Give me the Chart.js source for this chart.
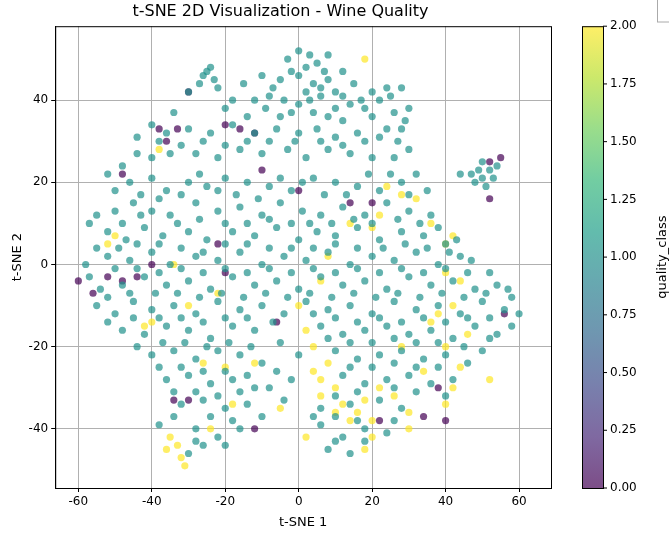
<!DOCTYPE html>
<html><head>
<script src="https://cdn.jsdelivr.net/npm/chart.js@4/dist/chart.umd.min.js"></script>
<style>body{margin:0;background:#fff}#wrap{width:669px;height:534px}</style>
</head><body><div id="wrap"><canvas id="c"></canvas></div>
<script>
const xTicks = [-60, -40, -20, 0, 20, 40, 60];
const yTicks = [-40, -20, 0, 20, 40];
const cbTicks = ["0.00","0.25","0.50","0.75","1.00","1.25","1.50","1.75","2.00"];

// quality_class = 1
const class1 = [
[-3,50],[0,52],[2,48],[5,49],[8,51],[12,47],
[-25,47],[-23,45],[-27,44],[-30,42],[-15,44],[-10,46],[-5,45],[0,46],[4,44],[8,45],[10,42],[15,44],[20,42],[25,41],[28,43],[-18,40],[-20,38],
[-12,40],[-8,41],[-4,40],[0,39],[3,40],[6,41],[10,38],[14,39],[18,38],[22,40],[26,37],[30,38],[-34,37],[-14,36],[-5,36],[12,35],
[-40,34],[-36,32],[-30,33],[-24,32],[-18,34],[-12,32],[-6,33],[0,32],[5,33],[10,31],[16,32],[24,33],[28,33],[-44,31],
[-48,24],[-44,27],[-40,26],[-35,27],[-28,27],[-22,26],[-16,28],[-10,27],[-3,28],[2,26],[8,28],[14,27],[20,26],[26,26],[30,28],[50,25],[52,23],[48,20],[51,19],[53,21],
[-52,22],[-46,20],[-40,21],[-36,18],[-30,20],[-25,19],[-20,21],[-14,20],[-8,19],[-2,18],[4,21],[10,20],[16,19],[22,18],[28,20],[32,22],[44,22],
[-55,12],[-50,13],[-45,15],[-40,13],[-35,12],[-28,15],[-22,13],[-16,14],[-10,12],[-5,15],[1,13],[6,12],[12,14],[18,12],[24,15],[30,13],[36,12],
[-52,8],[-47,6],[-42,9],[-37,7],[-30,8],[-25,6],[-18,8],[-12,7],[-6,9],[0,6],[5,8],[10,7],[16,9],[22,6],[28,8],[34,7],[40,5],
[-58,0],[-52,2],[-46,1],[-40,3],[-35,0],[-28,2],[-22,1],[-16,3],[-10,0],[-4,2],[2,1],[8,3],[14,0],[20,2],[26,1],[32,3],[38,0],[44,2],
[-54,-6],[-48,-5],[-42,-3],[-36,-5],[-30,-4],[-24,-6],[-18,-3],[-12,-5],[-6,-4],[0,-6],[6,-3],[12,-5],[18,-4],[24,-6],[30,-3],[36,-5],[42,-4],[48,-6],[54,-5],[58,-8],
[-55,-10],[-50,-12],[-45,-9],[-40,-11],[-34,-10],[-28,-12],[-22,-9],[-16,-11],[-10,-10],[-4,-12],[2,-9],[8,-11],[14,-10],[20,-12],[26,-9],[32,-11],[38,-10],[44,-12],[50,-9],[56,-11],[60,-12],
[-48,-16],[-42,-17],[-36,-15],[-30,-16],[-24,-18],[-18,-15],[-12,-16],[6,-15],[12,-17],[18,-16],[24,-15],[30,-17],[36,-16],[42,-18],[48,-15],[54,-17],
[-40,-22],[-34,-21],[-28,-23],[-22,-21],[-16,-22],[-10,-24],[0,-22],[10,-21],[16,-23],[22,-22],[28,-21],[34,-23],[40,-22],[50,-21],
[-36,-28],[-30,-27],[-24,-29],[-18,-28],[-12,-30],[-2,-28],[12,-27],[18,-29],[24,-28],[30,-27],[36,-29],[42,-28],
[-32,-34],[-26,-33],[-20,-35],[-14,-34],[-4,-33],[6,-35],[14,-34],[22,-33],[28,-35],
[-38,-39],[-28,-40],[-22,-42],[-16,-40],[6,-39],[12,-42],[18,-40],[24,-41],
[-30,-46],[-26,-44],[8,-45],[14,-46],
// denser second pass
[-2,47],[3,51],[7,47],[-24,48],[-26,46],[-22,43],[-7,43],[2,42],[6,43],[12,41],[17,40],[24,43],[-9,38],[-2,37],[4,37],[8,36],[20,36],[29,35],
[-38,30],[-32,29],[-26,30],[-20,29],[-14,30],[-8,30],[-1,30],[6,30],[12,29],[18,30],[22,31],[27,30],[49,23],[54,24],[50,21],[47,22],
[-50,18],[-43,17],[-38,16],[-32,17],[-27,22],[-22,18],[-17,17],[-11,16],[-5,21],[1,20],[7,17],[13,17],[19,22],[25,22],[30,17],[35,18],
[-57,10],[-48,10],[-43,12],[-33,10],[-27,11],[-20,10],[-14,10],[-8,11],[-2,10],[3,10],[9,10],[15,11],[20,10],[27,11],[33,10],[38,9],[43,6],
[-55,4],[-49,4],[-44,5],[-38,5],[-32,4],[-26,3],[-20,5],[-14,5],[-8,4],[-2,4],[4,4],[10,5],[16,4],[23,4],[29,5],[35,4],[41,3],[47,1],
[-57,-3],[-50,-1],[-44,-1],[-38,-2],[-32,-1],[-26,-2],[-20,-1],[-14,-2],[-8,-1],[-2,-2],[4,-1],[10,-2],[16,-1],[22,-2],[28,-1],[34,-2],[40,-1],[46,-2],[52,-2],
[-52,-8],[-46,-7],[-39,-7],[-33,-7],[-27,-8],[-21,-7],[-15,-8],[-9,-7],[-3,-8],[3,-7],[9,-8],[15,-7],[21,-8],[27,-7],[33,-8],[39,-7],[45,-8],[51,-7],[57,-6],
[-52,-14],[-45,-13],[-38,-13],[-32,-13],[-26,-14],[-20,-13],[-14,-13],[-7,-14],[4,-12],[10,-13],[16,-14],[22,-13],[28,-14],[34,-13],[40,-14],[46,-13],[52,-13],[58,-15],
[-44,-20],[-37,-19],[-31,-19],[-25,-20],[-19,-19],[-13,-20],[-5,-19],[8,-18],[14,-19],[20,-19],[26,-18],[32,-19],[38,-19],[45,-20],[52,-18],
[-38,-25],[-32,-25],[-26,-26],[-20,-26],[-14,-27],[-6,-26],[14,-25],[20,-25],[26,-24],[32,-25],[38,-25],[46,-24],
[-34,-31],[-28,-31],[-22,-32],[-16,-31],[-8,-30],[10,-32],[16,-31],[26,-30],[32,-31],[40,-32],
[-34,-37],[-24,-37],[-18,-38],[-10,-37],[4,-37],[10,-37],[16,-38],[26,-38],[-28,-43],[-20,-44],[10,-43],[18,-43]
];
// quality_class = 2
const class2 = [
[-33,-44],[-35,-42],[-32,-47],[-31,-49],[-36,-45],[18,-45],[20,-38],[16,-36],[12,-34],[10,-30],[6,-28],[8,-24],[4,-20],[2,-16],[0,-10],[6,-4],[8,2],
[-18,-34],[-24,-40],[-40,-14],[-42,-15],[-52,5],[-50,7],[-38,28],[18,50],[40,-2],[42,7],[40,5],[36,10],[32,16],[28,17],[22,12],[20,9],
[28,-20],[36,-14],[40,-20],[46,-17],[44,-25],[30,-36],[26,-32],[34,-26],[2,-42],[-5,-35],[-12,-24],[-20,-25],[52,-28],[44,-4],[14,10],[24,19],
[-30,-10],[-22,-7],[-34,0],[-26,-24],[30,-40],
[10,-36],[14,-38],[18,-33],[20,-42],[6,-32],[4,-26],[22,-30],[42,-10],[38,-12],[40,-34],[42,-30]
];
// quality_class = 0
const class0 = [
[-60,-4],[-56,-7],[-52,-3],[-48,-4],[-44,-3],[-36,30],[-38,33],[-33,33],[-30,42],[-22,5],[-20,34],[-16,33],[-12,32],[-40,0],[-48,22],
[0,18],[14,15],[20,15],[52,16],[52,25],[55,26],[-6,-14],[-34,-33],[-30,-33],[34,-37],[40,-38],[-10,23],[-12,-40],[22,-38],[38,-30],[-20,-2],[56,-12]
];

const viridis = ["#440154","#482878","#3e4989","#31688e","#26828e","#1f9e89","#35b779","#6ece58","#b5de2b","#fde725"];
const pt = a => a.map(p => ({x: p[0], y: p[1]}));

const colorbar = {
  id: "colorbar",
  afterDraw(chart) {
    const ctx = chart.ctx, top = chart.chartArea.top, bot = chart.chartArea.bottom;
    const x0 = 582, w = 21;
    const g = ctx.createLinearGradient(0, bot, 0, top);
    viridis.forEach((c, i) => g.addColorStop(i / (viridis.length - 1), c));
    ctx.save();
    ctx.globalAlpha = 0.7;
    ctx.fillStyle = g;
    ctx.fillRect(x0, top, w, bot - top);
    ctx.globalAlpha = 1;
    ctx.strokeStyle = "#000"; ctx.lineWidth = 1;
    ctx.strokeRect(x0 + 0.5, top + 0.5, w, bot - top);
    ctx.fillStyle = "#000"; ctx.font = "12px 'DejaVu Sans'";
    ctx.textBaseline = "middle"; ctx.textAlign = "left";
    cbTicks.forEach((t, i) => {
      const y = bot - (bot - top) * i / (cbTicks.length - 1);
      ctx.beginPath(); ctx.moveTo(x0 + w, y); ctx.lineTo(x0 + w + 4, y); ctx.stroke();
      ctx.fillText(t, x0 + w + 7, y);
    });
    ctx.translate(663, (top + bot) / 2); ctx.rotate(-Math.PI / 2);
    ctx.textAlign = "center"; ctx.font = "13px 'DejaVu Sans'";
    ctx.fillText("quality_class", 0, 0);
    ctx.restore();
    ctx.save();
    ctx.strokeStyle = "#aaa";
    ctx.strokeRect(657.5, -3, 20, 25);
    ctx.restore();
  }
};

const frame = {
  id: "frame",
  afterDatasetsDraw(chart) {
    const a = chart.chartArea, ctx = chart.ctx;
    ctx.save(); ctx.strokeStyle = "#000"; ctx.lineWidth = 1;
    ctx.strokeRect(a.left + 0.5, a.top + 0.5, a.right - a.left, a.bottom - a.top);
    ctx.restore();
  }
};

const ds = (data, color) => ({
  data: pt(data), backgroundColor: color + "b3", borderColor: color + "b3",
  pointRadius: 3.6, pointHoverRadius: 3.6, borderWidth: 0
});

new Chart(document.getElementById("c"), {
  type: "scatter",
  data: { datasets: [ds(class1, "#21918c"), ds(class0, "#440154"), ds(class2, "#fde725")] },
  options: {
    responsive: true, maintainAspectRatio: false, animation: false,
    layout: { padding: { left: 10, right: 118, top: 0, bottom: 2 } },
    plugins: {
      legend: { display: false }, tooltip: { enabled: false },
      title: { display: true, text: "t-SNE 2D Visualization - Wine Quality", color: "#000",
        font: { family: "DejaVu Sans", size: 16, weight: "normal" }, padding: { top: 2, bottom: 5 } }
    },
    scales: {
      x: { min: -66.3, max: 68.7,
        afterBuildTicks: s => { s.ticks = xTicks.map(v => ({ value: v })); },
        grid: { color: "#b0b0b0", tickColor: "#000", tickLength: 4 }, border: { color: "#000" },
        ticks: { color: "#000", font: { family: "DejaVu Sans", size: 12 }, maxRotation: 0 },
        title: { display: true, text: "t-SNE 1", color: "#000", font: { family: "DejaVu Sans", size: 13 }, padding: 2 } },
      y: { min: -54.4, max: 58,
        afterBuildTicks: s => { s.ticks = yTicks.map(v => ({ value: v })); },
        grid: { color: "#b0b0b0", tickColor: "#000", tickLength: 4 }, border: { color: "#000" },
        ticks: { color: "#000", font: { family: "DejaVu Sans", size: 12 } },
        title: { display: true, text: "t-SNE 2", color: "#000", font: { family: "DejaVu Sans", size: 13 }, padding: 0 } }
    }
  },
  plugins: [colorbar, frame]
});
</script></body></html>
